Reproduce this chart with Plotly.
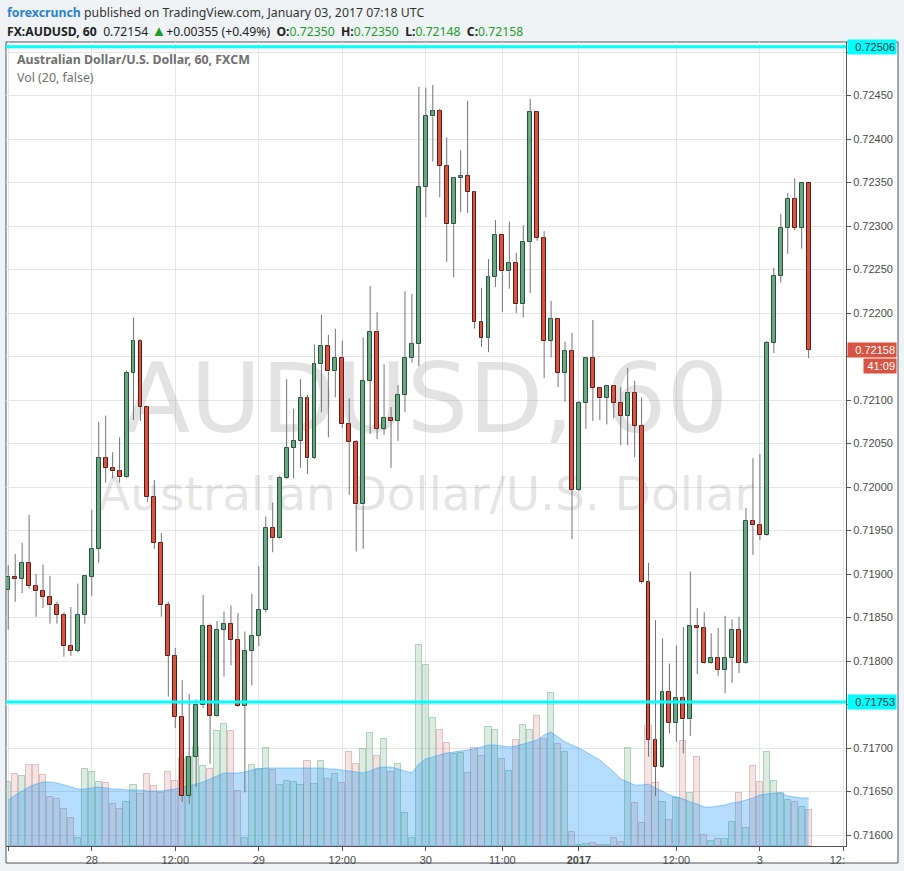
import plotly.graph_objects as go

# ---------------- data (hourly AUD/USD bars, FXCM, weekend gap removed) ----------------
bar_index = list(range(116))

open_ = [0.71882, 0.71897, 0.71894, 0.71913, 0.71886, 0.71880, 0.71874, 0.71864, 0.71853, 0.71817,
         0.71812, 0.71853, 0.71897, 0.71929, 0.72033, 0.72022, 0.72018, 0.72011, 0.72131, 0.72168,
         0.72092, 0.71988, 0.71936, 0.71864, 0.71806, 0.71736, 0.71645, 0.71690, 0.71749, 0.71840,
         0.71737, 0.71836, 0.71843, 0.71824, 0.71748, 0.71812, 0.71829, 0.71859, 0.71953, 0.71941,
         0.72010, 0.72045, 0.72053, 0.72102, 0.72033, 0.72141, 0.72162, 0.72133, 0.72148, 0.72072,
         0.72052, 0.71980, 0.72122, 0.72178, 0.72067, 0.72079, 0.72076, 0.72106, 0.72148, 0.72164,
         0.72345, 0.72426, 0.72432, 0.72369, 0.72302, 0.72355, 0.72358, 0.72339, 0.72190, 0.72171,
         0.72241, 0.72290, 0.72248, 0.72257, 0.72210, 0.72282, 0.72431, 0.72286, 0.72168, 0.72193,
         0.72131, 0.72156, 0.71997, 0.72097, 0.72148, 0.72114, 0.72102, 0.72116, 0.72097, 0.72082,
         0.72108, 0.72070, 0.71891, 0.71709, 0.71678, 0.71764, 0.71729, 0.71757, 0.71733, 0.71840,
         0.71838, 0.71798, 0.71803, 0.71790, 0.71803, 0.71836, 0.71798, 0.71961, 0.71956, 0.71945,
         0.72166, 0.72243, 0.72298, 0.72331, 0.72298, 0.72350]
high = [0.71910, 0.71923, 0.71936, 0.71968, 0.71900, 0.71911, 0.71898, 0.71868, 0.71856, 0.71862,
        0.71889, 0.71899, 0.71974, 0.72075, 0.72082, 0.72040, 0.72057, 0.72134, 0.72195, 0.72170,
        0.72093, 0.72008, 0.71947, 0.71868, 0.71815, 0.71778, 0.71762, 0.71756, 0.71876, 0.71843,
        0.71846, 0.71857, 0.71864, 0.71855, 0.71834, 0.71877, 0.71909, 0.71966, 0.71982, 0.72013,
        0.72124, 0.72090, 0.72124, 0.72106, 0.72164, 0.72198, 0.72175, 0.72182, 0.72168, 0.72102,
        0.72054, 0.72172, 0.72231, 0.72201, 0.72141, 0.72092, 0.72117, 0.72225, 0.72222, 0.72460,
        0.72459, 0.72462, 0.72435, 0.72402, 0.72356, 0.72387, 0.72444, 0.72340, 0.72229, 0.72262,
        0.72307, 0.72290, 0.72305, 0.72269, 0.72301, 0.72446, 0.72432, 0.72294, 0.72214, 0.72194,
        0.72167, 0.72177, 0.72099, 0.72149, 0.72192, 0.72115, 0.72117, 0.72117, 0.72115, 0.72137,
        0.72122, 0.72103, 0.71913, 0.71847, 0.71826, 0.71797, 0.71818, 0.71839, 0.71903, 0.71861,
        0.71856, 0.71832, 0.71838, 0.71852, 0.71848, 0.71851, 0.71976, 0.72033, 0.72038, 0.72168,
        0.72252, 0.72314, 0.72338, 0.72355, 0.72350, 0.72350]
low = [0.71836, 0.71868, 0.71878, 0.71883, 0.71851, 0.71861, 0.71843, 0.71843, 0.71805, 0.71806,
       0.71810, 0.71843, 0.71875, 0.71913, 0.72005, 0.72010, 0.72005, 0.72010, 0.72077, 0.72076,
       0.71983, 0.71929, 0.71851, 0.71759, 0.71723, 0.71638, 0.71636, 0.71655, 0.71746, 0.71682,
       0.71736, 0.71782, 0.71795, 0.71747, 0.71649, 0.71772, 0.71817, 0.71856, 0.71925, 0.71940,
       0.72009, 0.72010, 0.72022, 0.72015, 0.72032, 0.72086, 0.72057, 0.72103, 0.72068, 0.71991,
       0.71926, 0.71929, 0.72061, 0.72055, 0.72060, 0.72022, 0.72053, 0.72086, 0.72143, 0.72139,
       0.72310, 0.72374, 0.72333, 0.72259, 0.72241, 0.72316, 0.72315, 0.72182, 0.72161, 0.72155,
       0.72230, 0.72201, 0.72228, 0.72200, 0.72195, 0.72223, 0.72283, 0.72125, 0.72149, 0.72115,
       0.72098, 0.71940, 0.71995, 0.72067, 0.72076, 0.72077, 0.72072, 0.72079, 0.72048, 0.72048,
       0.72034, 0.71889, 0.71690, 0.71645, 0.71677, 0.71717, 0.71707, 0.71694, 0.71714, 0.71785,
       0.71797, 0.71797, 0.71783, 0.71763, 0.71775, 0.71786, 0.71797, 0.71922, 0.71939, 0.71944,
       0.72154, 0.72235, 0.72268, 0.72295, 0.72274, 0.72148]
close = [0.71897, 0.71894, 0.71913, 0.71886, 0.71880, 0.71874, 0.71864, 0.71853, 0.71817, 0.71812,
         0.71853, 0.71898, 0.71929, 0.72033, 0.72022, 0.72018, 0.72011, 0.72131, 0.72168, 0.72092,
         0.71988, 0.71936, 0.71864, 0.71806, 0.71736, 0.71645, 0.71690, 0.71749, 0.71840, 0.71737,
         0.71836, 0.71843, 0.71824, 0.71748, 0.71812, 0.71829, 0.71859, 0.71953, 0.71941, 0.72010,
         0.72045, 0.72053, 0.72102, 0.72033, 0.72141, 0.72162, 0.72133, 0.72148, 0.72072, 0.72052,
         0.71980, 0.72122, 0.72178, 0.72067, 0.72079, 0.72076, 0.72106, 0.72148, 0.72164, 0.72345,
         0.72426, 0.72432, 0.72369, 0.72302, 0.72355, 0.72358, 0.72339, 0.72190, 0.72171, 0.72241,
         0.72290, 0.72248, 0.72257, 0.72210, 0.72282, 0.72431, 0.72286, 0.72168, 0.72193, 0.72131,
         0.72156, 0.71997, 0.72097, 0.72148, 0.72114, 0.72102, 0.72116, 0.72097, 0.72082, 0.72108,
         0.72070, 0.71891, 0.71709, 0.71678, 0.71764, 0.71729, 0.71757, 0.71733, 0.71840, 0.71838,
         0.71798, 0.71803, 0.71790, 0.71803, 0.71836, 0.71798, 0.71961, 0.71956, 0.71945, 0.72166,
         0.72243, 0.72298, 0.72331, 0.72298, 0.72350, 0.72158]
volume = [1600, 1800, 1750, 2025, 2025, 1775, 1225, 1175, 925, 700,
          200, 1925, 1850, 1600, 1575, 1050, 925, 1100, 1525, 1300,
          1800, 1500, 1325, 1850, 1625, 2175, 2225, 2475, 2000, 1925,
          2875, 3050, 2875, 1375, 200, 2025, 1925, 2450, 1900, 1525,
          1625, 1600, 1525, 2125, 1550, 2125, 1675, 1800, 1575, 2350,
          2050, 2425, 2825, 2250, 2675, 1850, 2050, 825, 200, 5025,
          4525, 3200, 2900, 2575, 2300, 2325, 1825, 2450, 2250, 2975,
          2900, 2175, 1875, 2650, 3025, 2900, 3250, 2675, 3825, 2550,
          2350, 350, 25, 50, 75, 25, 25, 200, 100, 2450,
          1075, 575, 3000, 1575, 1100, 650, 1200, 2625, 1325, 2225,
          275, 125, 175, 175, 600, 1325, 450, 2000, 1600, 2350,
          1625, 1325, 1150, 1100, 975, 900]
volume_ma20 = [1150, 1275, 1375, 1475, 1550, 1600, 1600, 1575, 1525, 1475,
               1425, 1425, 1450, 1475, 1450, 1425, 1425, 1400, 1400, 1400,
               1375, 1375, 1375, 1400, 1425, 1475, 1500, 1550, 1600, 1675,
               1750, 1825, 1825, 1825, 1850, 1900, 1925, 1950, 1950, 1950,
               1950, 1950, 1950, 1950, 1950, 1950, 1925, 1925, 1900, 1875,
               1850, 1825, 1875, 1950, 1975, 1975, 1925, 1875, 1825, 2050,
               2175, 2225, 2275, 2325, 2350, 2375, 2400, 2425, 2475, 2525,
               2525, 2500, 2475, 2500, 2550, 2600, 2650, 2775, 2850, 2725,
               2600, 2525, 2450, 2350, 2250, 2150, 2000, 1850, 1675, 1600,
               1525, 1525, 1550, 1450, 1375, 1275, 1225, 1175, 1100, 1050,
               975, 975, 1000, 1025, 1075, 1100, 1150, 1200, 1275, 1300,
               1325, 1325, 1250, 1225, 1200, 1200]

tick_index = [0, 12, 24, 36, 48, 60, 71, 82, 96, 108, 120]
tick_labels = ["\u00a0\u00a0\u00a0\u00a0:00", "28", "12:00", "29", "12:00", "30", "11:00",
               "<b>2017</b>", "12:00", "3", "12:\u00a0\u00a0\u00a0\u00a0"]

price_ticks = [0.71600, 0.71650, 0.71700, 0.71750, 0.71800, 0.71850, 0.71900, 0.71950, 0.72000,
               0.72050, 0.72100, 0.72150, 0.72200, 0.72250, 0.72300, 0.72350, 0.72400, 0.72450,
               0.72500]
price_tick_labels = ["0.71600", "0.71650", "0.71700", "", "0.71800", "0.71850", "0.71900",
                     "0.71950", "0.72000", "0.72050", "0.72100", "", "0.72200", "0.72250",
                     "0.72300", "0.72350", "0.72400", "0.72450", ""]

hline_levels = [0.72506, 0.71753]
last_price = 0.72158
countdown = "41:09"

# ---------------- styling ----------------
UP_FILL, UP_EDGE = "#6ba583", "#225437"
DN_FILL, DN_EDGE = "#d75442", "#5b1a13"
WICK = "#737375"
AX_FONT = dict(family="Liberation Sans, Arial, sans-serif", size=11, color="#4a4a4a")
X_RANGE = [-0.32, 120.37]
PRICE_RANGE = [0.715874, 0.725115]
VOL_RANGE = [0, 20100]

W, H = 904, 871
ML, MR, MT, MB = 6, 58, 42, 25
PW, PH = W - ML - MR, H - MT - MB

is_up = [c >= o for o, c in zip(open_, close)]

fig = go.Figure()

# volume histogram (base axes)
fig.add_trace(go.Bar(
    x=bar_index, y=volume, width=0.88,
    marker=dict(color=["rgba(107,165,131,0.22)" if u else "rgba(200,120,120,0.2)" for u in is_up],
                line=dict(color=["rgba(90,170,115,0.45)" if u else "rgba(190,110,110,0.4)" for u in is_up],
                          width=1)),
    xaxis="x", yaxis="y", hoverinfo="skip", showlegend=False))

# volume moving average area
fig.add_trace(go.Scatter(
    x=bar_index, y=volume_ma20, mode="lines", fill="tozeroy",
    fillcolor="rgba(33,150,243,0.33)", line=dict(color="rgba(33,150,243,0.45)", width=1),
    xaxis="x", yaxis="y", hoverinfo="skip", showlegend=False))

# watermark (under candles)
x_mid = (X_RANGE[0] + X_RANGE[1]) / 2
fig.add_trace(go.Scatter(
    x=[x_mid, x_mid], y=[VOL_RANGE[1] * 0.545, VOL_RANGE[1] * 0.432], mode="text",
    text=["AUDUSD, 60", "Australian Dollar/U.S. Dollar"],
    textfont=dict(family="DejaVu Sans", size=[97, 47], color="rgba(140,140,140,0.24)"),
    textposition="middle center", xaxis="x", yaxis="y", hoverinfo="skip", showlegend=False))

# candle bodies (price axes, drawn over the volume pane)
fig.add_trace(go.Bar(
    x=bar_index,
    y=[abs(c - o) for o, c in zip(open_, close)],
    base=[min(o, c) for o, c in zip(open_, close)],
    width=0.56,
    marker=dict(color=[UP_FILL if u else DN_FILL for u in is_up],
                line=dict(color=[UP_EDGE if u else DN_EDGE for u in is_up], width=1)),
    xaxis="x", yaxis="y2", hoverinfo="skip", showlegend=False))

# wicks (upper and lower parts so they do not cross the bodies)
wx, wy = [], []
for i, o, h, l, c in zip(bar_index, open_, high, low, close):
    top, bot = max(o, c), min(o, c)
    if h > top:
        wx += [i, i, None]; wy += [h, top, None]
    if l < bot:
        wx += [i, i, None]; wy += [bot, l, None]
fig.add_trace(go.Scatter(
    x=wx, y=wy, mode="lines", line=dict(color=WICK, width=1),
    xaxis="x", yaxis="y2", hoverinfo="skip", showlegend=False, connectgaps=False))

# ---------------- shapes ----------------
shapes = [
    # white chart frame
    dict(type="rect", xref="paper", yref="paper", x0=0, x1=(898 - ML) / PW,
         y0=-(863 - (MT + PH)) / PH, y1=1, fillcolor="white",
         line=dict(color="#50535e", width=1), layer="below"),
]
for lvl in hline_levels:
    shapes.append(dict(type="line", xref="paper", yref="y2", x0=0, x1=1, y0=lvl, y1=lvl,
                       line=dict(color="#00ffff", width=3), layer="above"))

# ---------------- annotations ----------------
HDR_FONT = "Noto Sans, sans-serif"
nb = "\u00a0"
annotations = [
    dict(xref="paper", yref="paper", x=-1 / PW, y=1 + 30 / PH, xanchor="left", yanchor="middle",
         showarrow=False, align="left",
         text='<span style="color:#2a83c8"><b>forexcrunch</b></span> published on TradingView.com, January 03, 2017 07:18 UTC',
         font=dict(family=HDR_FONT, size=12.3, color="#333333")),
    dict(xref="paper", yref="paper", x=-1 / PW, y=1 + 12 / PH, xanchor="left", yanchor="middle",
         showarrow=False, align="left",
         text=('<b>FX:AUDUSD, 60</b>' + nb * 2 + '0.72154 <span style="color:#1f9d2b;font-size:15px">▲</span>'
               '+0.00355 (+0.49%)' + nb * 2 +
               '<b>O:</b><span style="color:#1f9d2b">0.72350</span>' + nb * 2 +
               '<b>H:</b><span style="color:#1f9d2b">0.72350</span>' + nb * 2 +
               '<b>L:</b><span style="color:#1f9d2b">0.72148</span>' + nb * 2 +
               '<b>C:</b><span style="color:#1f9d2b">0.72158</span>'),
         font=dict(family=HDR_FONT, size=12.2, color="#222222")),
    dict(xref="paper", yref="paper", x=9 / PW, y=1 - 18 / PH, xanchor="left", yanchor="middle",
         showarrow=False, text="<b>Australian Dollar/U.S. Dollar, 60, FXCM</b>",
         font=dict(family=HDR_FONT, size=12.4, color="#6f6f6f")),
    dict(xref="paper", yref="paper", x=9 / PW, y=1 - 35 / PH, xanchor="left", yanchor="middle",
         showarrow=False, text="Vol (20, false)",
         font=dict(family=HDR_FONT, size=12.4, color="#6f6f6f")),
    # price-scale labels
    dict(xref="paper", yref="y2", x=1, y=last_price, xanchor="left", yanchor="middle", xshift=1,
         showarrow=False, text=f"{last_price:.5f}", bgcolor="#d75442", width=46, height=12,
         borderpad=1, align="right",
         font=dict(family="Liberation Sans, Arial", size=11, color="white")),
    dict(xref="paper", yref="y2", x=1, y=last_price, xanchor="left", yanchor="middle", xshift=17,
         yshift=-16, showarrow=False, text=countdown, bgcolor="#d75442", width=30, height=12,
         borderpad=1, align="right",
         font=dict(family="Liberation Sans, Arial", size=11, color="white")),
]
for lvl in hline_levels:
    annotations.append(dict(xref="paper", yref="y2", x=1, y=lvl, xanchor="left", yanchor="middle",
                            xshift=1, showarrow=False, text=f"{lvl:.5f}", bgcolor="#00ffff",
                            width=46, height=12, borderpad=1, align="right",
                            font=dict(family="Liberation Sans, Arial", size=11, color="#333333")))

fig.update_layout(
    width=W, height=H,
    margin=dict(l=ML, r=MR, t=MT, b=MB, pad=0),
    paper_bgcolor="#f0f3f6", plot_bgcolor="white",
    barmode="overlay", bargap=0, hovermode=False, showlegend=False,
    shapes=shapes, annotations=annotations,
    xaxis=dict(range=X_RANGE, tickmode="array", tickvals=tick_index, ticktext=tick_labels,
               showgrid=True, gridcolor="#e6e6e6", gridwidth=1, zeroline=False,
               ticks="outside", ticklen=4, tickcolor="#50535e", tickfont=AX_FONT,
               showline=True, linecolor="#50535e", linewidth=1, fixedrange=True),
    yaxis=dict(range=VOL_RANGE, visible=False, showgrid=False, zeroline=False, fixedrange=True),
    yaxis2=dict(range=PRICE_RANGE, overlaying="y", side="right", anchor="x",
                tickmode="array", tickvals=price_ticks, ticktext=price_tick_labels,
                showgrid=True, gridcolor="#e6e6e6", gridwidth=1, zeroline=False,
                ticks="outside", ticklen=4, tickcolor="#50535e", tickfont=AX_FONT,
                showline=True, linecolor="#50535e", linewidth=1, fixedrange=True),
)

fig.write_html("out.html", config={"displayModeBar": False},
               post_script="document.body.style.margin='0';document.body.style.background='#f0f3f6';")
